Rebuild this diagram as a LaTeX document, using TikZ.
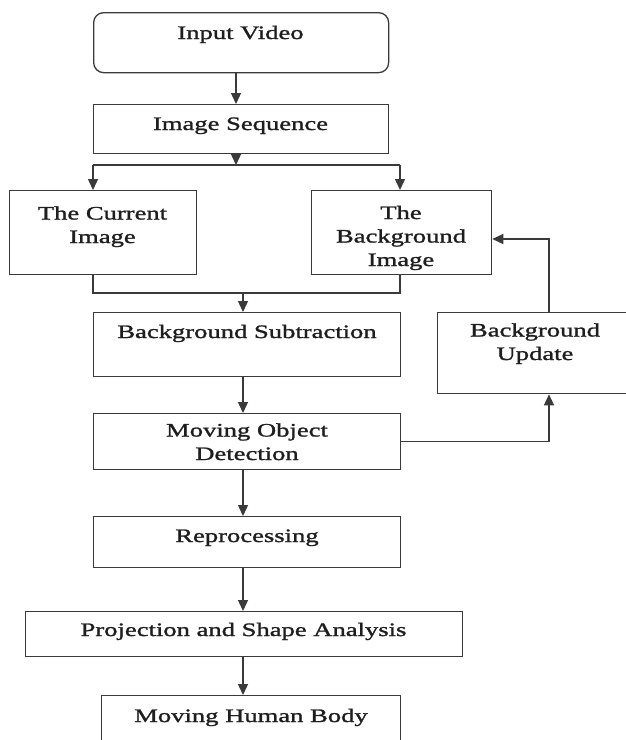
\documentclass[tikz,border=0pt]{standalone}
\usepackage{fontspec}
\setmainfont{Liberation Serif}[FakeStretch=1.4,FakeBold=1.3]
\usetikzlibrary{arrows.meta}
\definecolor{lc}{HTML}{3A3A3A}
\definecolor{tc}{HTML}{1E1E1E}
\begin{document}
\begin{tikzpicture}[x=1pt,y=-1pt,
  box/.style={draw=lc,line width=1.3pt,inner sep=0pt,anchor=north west},
  txt/.style={font=\fontsize{19}{23.5}\selectfont,text=tc,anchor=base,align=center,inner sep=0pt},
  con/.style={draw=lc,line width=1.3pt},
  arr/.style={con,-{Triangle[width=10pt,length=11pt]}}]
\useasboundingbox (0,0) rectangle (626,740);
\fill[white] (0,0) rectangle (626,740);
% boxes
\node[box,rounded corners=10pt,minimum width=295pt,minimum height=60pt] (iv) at (93,12) {};
\node[box,minimum width=295pt,minimum height=49pt] (is) at (93,104) {};
\node[box,minimum width=187pt,minimum height=84pt] (ci) at (9,190) {};
\node[box,minimum width=180pt,minimum height=84pt] (bi) at (311,190) {};
\node[box,minimum width=307pt,minimum height=64pt] (bs) at (93,312) {};
\node[box,minimum width=196pt,minimum height=81pt] (bu) at (437,312) {};
\node[box,minimum width=307pt,minimum height=56pt] (mod) at (93,413) {};
\node[box,minimum width=307pt,minimum height=51pt] (rp) at (93,516) {};
\node[box,minimum width=437pt,minimum height=45pt] (psa) at (25,611) {};
\node[box,minimum width=299pt,minimum height=60pt] (mhb) at (101,695) {};
% texts (anchor = baseline of the last line)
\node[txt] (tiv) at (240.5,39) {Input Video};
\node[txt] (tis) at (240.5,130) {Image Sequence};
\node[txt] (tci) at (102.5,243) {The Current\\Image};
\node[txt] (tbi) at (401,266) {The\\Background\\Image};
\node[txt] (tbs) at (247,338) {Background Subtraction};
\node[txt] (tbu) at (535,360) {Background\\Update};
\node[txt] (tmod) at (247,460) {Moving Object\\Detection};
\node[txt] (trp) at (247,542) {Reprocessing};
\node[txt] (tpsa) at (243.5,636) {Projection and Shape Analysis};
\node[txt] (tmhb) at (251,722) {Moving Human Body};
% coordinates
\coordinate (sl) at (93,165);
\coordinate (sr) at (400,165);
\coordinate (ml) at (93,293);
\coordinate (mr) at (400,293);
\coordinate (fx) at (549,239);
% connectors
\draw[arr] (iv.south -| 236,0) -- (is.north -| 236,0);
\draw[arr] (is.south -| 236,0) -- (236,165);
\draw[con] (sl) -- (sr);
\draw[arr] (sl) -- (sl |- ci.north);
\draw[arr] (sr) -- (sr |- bi.north);
\draw[con] (ci.south -| ml) -- (ml) -- (mr) -- (bi.south -| mr);
\draw[arr] (243,293) -- (bs.north -| 243,0);
\draw[arr] (bs.south -| 243,0) -- (mod.north -| 243,0);
\draw[arr] (mod.south -| 243,0) -- (rp.north -| 243,0);
\draw[arr] (rp.south -| 243,0) -- (psa.north -| 243,0);
\draw[arr] (psa.south -| 243,0) -- (mhb.north -| 243,0);
\draw[arr] (mod.east) -| (fx |- bu.south);
\draw[arr] (fx |- bu.north) -- (fx) -- (fx -| bi.east);
\end{tikzpicture}
\end{document}
